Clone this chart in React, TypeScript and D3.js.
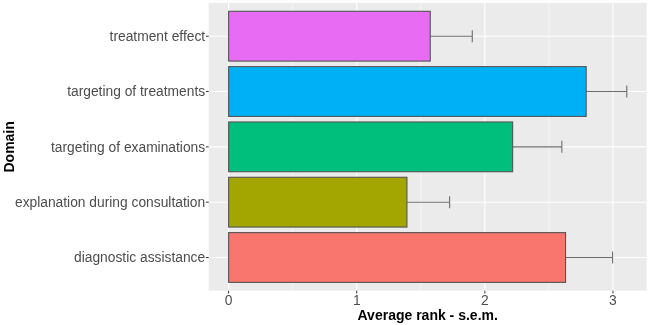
import React from "react";
import * as d3 from "d3";

const categories = [
  "diagnostic assistance",
  "explanation during consultation",
  "targeting of examinations",
  "targeting of treatments",
  "treatment effect",
];
const values = [2.63, 1.392, 2.217, 2.791, 1.574];
const sems = [0.367, 0.333, 0.384, 0.317, 0.328];
const colors = ["#F8766D", "#A3A500", "#00BF7D", "#00B0F6", "#E76BF3"];
const xTicks = [0, 1, 2, 3];
const xMinor = [0.5, 1.5, 2.5];

export default function App() {
  const W = 650, H = 325;
  const left = 208.7, right = 646.7, top = 3, bottom = 290.7;
  const maxV = d3.max(values.map((v, i) => v + sems[i])) as number;
  const pad = maxV * 0.05;
  const x = d3.scaleLinear().domain([-pad, maxV + pad]).range([left, right]);
  // discrete y with ggplot 0.6 expansion; first category at bottom
  const y = d3.scaleLinear().domain([0.4, categories.length + 0.6]).range([bottom, top]);
  const barH = (y(0) - y(0.9));
  const font = "'Liberation Sans', Arial, sans-serif";

  return (
    <svg width={W} height={H} style={{ position: "fixed", left: 0, top: 0 }} fontFamily={font}>
      <rect x={left} y={top} width={right - left} height={bottom - top} fill="#EBEBEB" />
      {xMinor.map((t) => (
        <line key={"m" + t} x1={x(t)} x2={x(t)} y1={top} y2={bottom} stroke="#FFFFFF" strokeWidth={0.55} />
      ))}
      {xTicks.map((t) => (
        <line key={"g" + t} x1={x(t)} x2={x(t)} y1={top} y2={bottom} stroke="#FFFFFF" strokeWidth={1.1} />
      ))}
      {categories.map((c, i) => (
        <line key={"h" + c} x1={left} x2={right} y1={y(i + 1)} y2={y(i + 1)} stroke="#FFFFFF" strokeWidth={1.1} />
      ))}
      {categories.map((c, i) => {
        const cy = y(i + 1);
        return (
          <g key={c}>
            <line x1={x(values[i])} x2={x(values[i] + sems[i])} y1={cy} y2={cy} stroke="#6E6E6E" strokeWidth={1.1} />
            <line x1={x(values[i] + sems[i])} x2={x(values[i] + sems[i])} y1={cy - 6} y2={cy + 6} stroke="#6E6E6E" strokeWidth={1.1} />
            <rect
              x={x(0)}
              y={cy - barH / 2}
              width={x(values[i]) - x(0)}
              height={barH}
              fill={colors[i]}
              stroke="#555555"
              strokeWidth={1.1}
            />
          </g>
        );
      })}
      {/* y axis ticks and labels */}
      {categories.map((c, i) => (
        <g key={"yl" + c}>
          <line x1={left - 2.8} x2={left} y1={y(i + 1)} y2={y(i + 1)} stroke="#333333" strokeWidth={1} />
          <text x={left - 3.5} y={y(i + 1)} dy="0.35em" textAnchor="end" fontSize={13.8} fill="#4D4D4D">
            {c}
          </text>
        </g>
      ))}
      {/* x axis ticks and labels */}
      {xTicks.map((t) => (
        <g key={"xl" + t}>
          <line x1={x(t)} x2={x(t)} y1={bottom} y2={bottom + 2.8} stroke="#333333" strokeWidth={1} />
          <text x={x(t)} y={305} textAnchor="middle" fontSize={13.8} fill="#4D4D4D">
            {t}
          </text>
        </g>
      ))}
      <text x={(left + right) / 2} y={319.5} textAnchor="middle" fontSize={14} fontWeight="bold" fill="#000">
        Average rank - s.e.m.
      </text>
      <text
        transform={`translate(13.5, ${(top + bottom) / 2}) rotate(-90)`}
        textAnchor="middle"
        fontSize={14}
        fontWeight="bold"
        fill="#000"
      >
        Domain
      </text>
    </svg>
  );
}
